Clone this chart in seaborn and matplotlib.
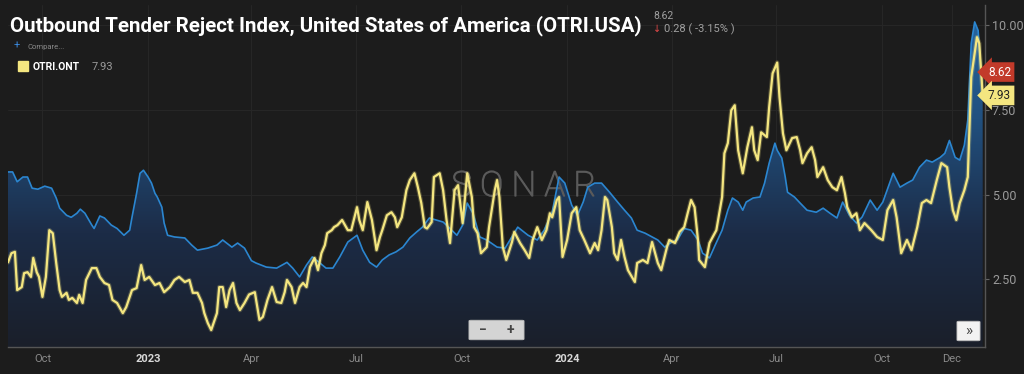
import numpy as np
import pandas as pd
import seaborn as sns
import matplotlib.pyplot as plt
import matplotlib.dates as mdates
from matplotlib.colors import LinearSegmentedColormap
from matplotlib.patches import Rectangle, FancyBboxPatch
import matplotlib.patheffects as pe

# data: days after 2022-09-01
start = pd.Timestamp('2022-09-01')

usa_day = [0, 4, 8, 13, 17, 21, 26, 32, 38, 42, 45, 51, 55, 60, 63, 67, 73, 75, 80, 84,
           90, 95, 101, 106, 108, 112, 115, 118, 122, 125, 128, 130, 134, 136, 139, 145,
           154, 160, 165, 174, 182, 187, 195, 200, 206, 212, 216, 225, 234, 243, 248, 254,
           260, 265, 271, 277, 283, 289, 296, 304, 309, 315, 321, 326, 332, 338, 344, 350,
           356, 361, 367, 373, 379, 385, 391, 396, 400, 405, 411, 417, 426, 433, 444, 453,
           461, 467, 474, 480, 485, 491, 496, 501, 505, 511, 517, 524, 531, 537, 543, 548,
           555, 561, 566, 572, 578, 583, 589, 595, 601, 605, 611, 616, 622, 627, 631, 636,
           640, 643, 649, 655, 659, 663, 668, 670, 674, 677, 679, 685, 690, 696, 704, 710,
           716, 722, 727, 733, 739, 744, 751, 757, 762, 771, 777, 783, 788, 794, 800, 805,
           812, 816, 820, 825, 829, 833, 836, 839, 842, 845, 848, 849]
usa_val = [5.67, 5.67, 5.38, 5.52, 5.52, 5.19, 5.16, 5.25, 5.19, 4.90, 4.60, 4.39, 4.33, 4.45,
           4.57, 4.45, 4.10, 4.00, 4.37, 4.31, 4.10, 4.00, 3.80, 3.95, 4.33, 5.04, 5.63, 5.72,
           5.52, 5.34, 5.04, 4.93, 4.63, 4.16, 3.80, 3.75, 3.72, 3.51, 3.36, 3.42, 3.51, 3.66,
           3.45, 3.57, 3.42, 3.05, 2.98, 2.86, 2.83, 3.00, 2.83, 2.57, 2.92, 3.16, 3.00, 2.83,
           2.83, 3.16, 3.60, 3.80, 3.36, 3.00, 2.86, 3.07, 3.22, 3.31, 3.45, 3.72, 3.90, 4.04,
           4.31, 4.25, 4.19, 4.00, 3.80, 4.10, 4.75, 4.45, 3.75, 3.66, 3.45, 3.42, 4.04, 3.80,
           3.66, 3.95, 4.48, 5.52, 5.34, 4.69, 4.39, 4.78, 5.22, 5.34, 5.34, 5.07, 4.78, 4.54,
           4.31, 3.95, 3.86, 3.75, 3.66, 3.45, 3.60, 3.66, 4.00, 3.95, 3.66, 3.27, 3.13, 3.51,
           3.95, 4.54, 4.90, 4.78, 4.54, 4.78, 4.90, 4.93, 5.34, 5.93, 6.52, 6.31, 6.08, 5.52,
           5.07, 4.93, 4.75, 4.54, 4.48, 4.60, 4.45, 4.31, 4.78, 4.39, 4.16, 4.34, 4.84, 4.54,
           4.78, 5.63, 5.22, 5.34, 5.43, 5.81, 6.02, 5.96, 6.10, 6.22, 6.60, 6.10, 6.02, 6.46,
           7.20, 9.47, 10.10, 9.85, 8.47, 8.62]

ont_day = [0, 3, 6, 8, 12, 14, 17, 20, 22, 25, 27, 30, 33, 36, 39, 42, 45, 47, 51, 53, 56,
           60, 62, 65, 68, 73, 77, 80, 84, 88, 91, 95, 100, 103, 108, 112, 116, 119, 123,
           128, 132, 136, 141, 145, 149, 154, 158, 161, 165, 169, 171, 174, 177, 182, 184,
           187, 190, 193, 196, 199, 202, 206, 210, 215, 219, 222, 226, 230, 234, 238, 241,
           243, 247, 250, 254, 257, 260, 263, 267, 270, 273, 276, 278, 282, 284, 287, 291,
           296, 299, 304, 306, 309, 313, 317, 321, 324, 326, 330, 334, 337, 339, 343, 347,
           350, 354, 357, 360, 363, 365, 369, 371, 376, 379, 382, 385, 389, 392, 396, 400,
           404, 406, 409, 412, 417, 419, 424, 426, 428, 431, 434, 439, 441, 446, 450, 454,
           457, 461, 465, 469, 472, 474, 478, 480, 483, 487, 491, 495, 498, 502, 507, 511,
           514, 517, 520, 522, 526, 528, 531, 534, 537, 540, 546, 548, 553, 557, 561, 566,
           569, 574, 576, 581, 585, 589, 592, 595, 598, 601, 602, 607, 611, 617, 622, 624,
           627, 630, 633, 636, 640, 644, 648, 650, 653, 656, 661, 663, 666, 670, 672, 675,
           678, 683, 687, 690, 692, 696, 700, 703, 705, 710, 714, 718, 722, 726, 729, 731,
           735, 739, 742, 746, 752, 757, 762, 766, 771, 774, 778, 783, 787, 792, 796, 800,
           804, 809, 813, 818, 820, 823, 826, 829, 833, 836, 839, 844, 846, 849]
ont_val = [3.00, 3.27, 3.31, 2.18, 2.27, 2.68, 2.71, 2.57, 3.13, 2.71, 2.57, 1.98, 2.57, 3.95,
           3.86, 2.98, 2.18, 1.98, 2.10, 1.89, 1.95, 1.80, 2.04, 1.80, 2.48, 2.83, 2.83, 2.57,
           2.39, 2.33, 1.89, 1.80, 1.50, 1.68, 2.18, 2.24, 2.92, 2.48, 2.57, 2.33, 2.39, 2.12,
           2.27, 2.48, 2.57, 2.42, 2.48, 2.10, 2.10, 1.80, 1.50, 1.21, 1.00, 1.50, 2.27, 2.27,
           1.68, 2.18, 2.39, 1.80, 1.59, 1.80, 2.05, 2.12, 1.30, 1.39, 1.89, 2.27, 1.83, 1.80,
           2.12, 2.48, 2.27, 1.80, 2.27, 2.39, 2.27, 2.86, 3.13, 2.77, 3.27, 3.51, 3.86, 3.95,
           4.04, 4.10, 4.25, 3.95, 3.95, 4.63, 4.25, 3.95, 4.78, 4.25, 3.36, 3.75, 3.95, 4.39,
           4.48, 4.33, 4.04, 4.33, 5.13, 5.43, 5.63, 5.22, 4.75, 4.04, 4.00, 4.19, 5.52, 5.63,
           5.13, 4.25, 3.57, 5.13, 5.28, 4.16, 5.63, 4.93, 4.04, 3.86, 3.27, 3.45, 4.04, 5.13,
           5.43, 4.93, 3.45, 3.07, 3.60, 3.90, 3.57, 3.36, 3.13, 3.66, 4.04, 3.66, 3.95, 4.45,
           4.33, 4.84, 4.93, 3.16, 3.66, 4.45, 4.63, 3.95, 3.66, 3.27, 3.57, 3.36, 3.95, 4.93,
           4.84, 4.04, 3.27, 3.07, 3.66, 3.16, 2.77, 2.42, 2.98, 3.07, 2.98, 3.60, 2.98, 2.77,
           3.45, 3.66, 3.57, 3.90, 4.04, 4.45, 4.84, 4.63, 3.66, 3.07, 2.86, 3.57, 3.95, 4.93,
           6.22, 6.52, 7.49, 7.64, 6.31, 5.63, 6.40, 6.99, 6.31, 6.02, 6.84, 6.70, 7.58, 8.58,
           8.90, 7.88, 6.81, 6.31, 6.67, 6.70, 6.31, 5.93, 6.22, 6.40, 6.02, 5.52, 5.81, 5.43,
           5.22, 5.13, 5.52, 5.04, 4.63, 4.33, 4.45, 3.95, 4.16, 3.95, 3.75, 3.66, 4.54, 4.84,
           4.33, 3.27, 3.66, 3.36, 4.04, 4.75, 4.84, 4.75, 5.43, 5.93, 5.81, 5.22, 4.54, 4.25,
           4.75, 5.13, 5.52, 8.47, 9.65, 9.47, 7.93]

tick_dates = ['2022-10-01', '2023-01-01', '2023-04-01', '2023-07-01', '2023-10-01',
              '2024-01-01', '2024-04-01', '2024-07-01', '2024-10-01', '2024-12-01']
tick_labels = ['Oct', '2023', 'Apr', 'Jul', 'Oct', '2024', 'Apr', 'Jul', 'Oct', 'Dec']
y_ticks = [2.5, 5.0, 7.5, 10.0]

usa = pd.DataFrame({'date': start + pd.to_timedelta(usa_day, unit='D'), 'value': usa_val})
ont = pd.DataFrame({'date': start + pd.to_timedelta(ont_day, unit='D'), 'value': ont_val})

bg = '#1c1c1c'
sns.set_style('dark', {'axes.facecolor': bg, 'figure.facecolor': bg})
plt.rcParams['font.family'] = ['Roboto', 'DejaVu Sans']

fig = plt.figure(figsize=(10.24, 3.74), dpi=100)
ax = fig.add_axes([8 / 1024, 27 / 374, 977 / 1024, 342 / 374])
ax.set_facecolor(bg)

x0 = mdates.date2num(start)
x1 = mdates.date2num(pd.Timestamp('2024-12-30'))
ylo, yhi = 0.5, 10.6

# gradient area under the USA line
cmap = LinearSegmentedColormap.from_list('fill', ['#1a1f2a', '#1c2c47', '#21507f', '#2767a3'])
poly = ax.fill_between(usa['date'], usa['value'], ylo, color='none', lw=0)
grad = np.linspace(0, 1, 256).reshape(-1, 1)
im = ax.imshow(grad, extent=[x0, x1, ylo, yhi], origin='lower', aspect='auto',
               cmap=cmap, zorder=1)
im.set_clip_path(poly.get_paths()[0], transform=ax.transData)

sns.lineplot(data=usa, x='date', y='value', color='#2b86d0', lw=1.2, ax=ax, zorder=3)
sns.lineplot(data=ont, x='date', y='value', color='#f4e680', lw=1.6, ax=ax, zorder=4,
             path_effects=[pe.Stroke(linewidth=3.2, foreground='#f4e680', alpha=0.25), pe.Normal()])

ax.set_xlim(x0, x1)
ax.set_ylim(ylo, yhi)
ax.set_xlabel('')
ax.set_ylabel('')

# grid
for d in tick_dates:
    ax.axvline(pd.Timestamp(d), color='#262626', lw=0.8, zorder=0.5)
for v in y_ticks:
    ax.axhline(v, color='#262626', lw=0.8, zorder=0.5)

ax.set_xticks(pd.to_datetime(tick_dates))
ax.set_xticklabels(tick_labels)
for lab in ax.get_xticklabels():
    if lab.get_text() in ('2023', '2024'):
        lab.set_color('#d8d8d8')
        lab.set_fontweight('bold')
    else:
        lab.set_color('#8a8a8a')
ax.tick_params(axis='x', length=3, color='#555555', labelsize=8, pad=5, direction='in')

ax.yaxis.tick_right()
ax.set_yticks(y_ticks)
ax.set_yticklabels([f'{v:.2f}' for v in y_ticks])
ax.tick_params(axis='y', length=3, color='#666666', labelsize=9, labelcolor='#9a9a9a', pad=2)

for s in ['top', 'left']:
    ax.spines[s].set_visible(False)
ax.spines['right'].set_color('#555555')
ax.spines['bottom'].set_color('#555555')
ax.spines['right'].set_linewidth(1)
ax.spines['bottom'].set_linewidth(1)

# header texts
fig.text(10 / 1024, 1 - 31 / 374, 'Outbound Tender Reject Index, United States of America (OTRI.USA)',
         color='white', fontsize=14.8, fontweight='bold', va='baseline')
fig.text(653 / 1024, 1 - 19 / 374, '8.62', color='#a0a0a0', fontsize=7.5, va='baseline')
fig.text(653 / 1024, 1 - 32 / 374, '↓', color='#e04848', fontsize=7, va='baseline',
         family=['DejaVu Sans'])
fig.text(664 / 1024, 1 - 32 / 374, '0.28 ( -3.15% )', color='#a0a0a0', fontsize=8, va='baseline')
fig.text(14 / 1024, 1 - 49 / 374, '+', color='#3b8be0', fontsize=8, va='baseline')
fig.text(27 / 1024, 1 - 49 / 374, 'Compare...', color='#8a8a8a', fontsize=5.5, va='baseline')
fig.patches.append(Rectangle((18 / 1024, 1 - 71 / 374), 10 / 1024, 10 / 374,
                             transform=fig.transFigure, color='#f4e680'))
fig.text(33 / 1024, 1 - 70 / 374, 'OTRI.ONT', color='white', fontsize=7.5, fontweight='bold',
         va='baseline')
fig.text(92 / 1024, 1 - 70 / 374, '7.93', color='#9a9a9a', fontsize=8, va='baseline')

# watermark
ax.text(0.528, 0.47, 'S O N A R', transform=ax.transAxes, ha='center', va='center',
        fontsize=25, color='none', fontweight='light', zorder=2,
        path_effects=[pe.Stroke(linewidth=0.9, foreground='#5a5a5a')])

# last value tags
ax.text(1.003, usa_val[-1], '8.62', transform=ax.get_yaxis_transform(), va='center', ha='left',
        fontsize=8.5, color='white', zorder=6, clip_on=False,
        bbox=dict(boxstyle='larrow,pad=0.28', fc='#c23a2a', ec='none'))
ax.text(1.003, ont_val[-1], '7.93', transform=ax.get_yaxis_transform(), va='center', ha='left',
        fontsize=8.5, color='#222222', zorder=6, clip_on=False,
        bbox=dict(boxstyle='larrow,pad=0.28', fc='#f4e680', ec='none'))

# zoom controls
fig.patches.append(FancyBboxPatch((471 / 1024, 1 - 339 / 374), 51 / 1024, 18 / 374,
                                  boxstyle='round,pad=0.002', transform=fig.transFigure,
                                  fc='#d4d4d4', ec='#bbbbbb', lw=0.6))
fig.text(483 / 1024, 1 - 330 / 374, '−', color='#444444', fontsize=10, fontweight='bold',
         ha='center', va='center')
fig.text(510 / 1024, 1 - 330 / 374, '+', color='#444444', fontsize=10, fontweight='bold',
         ha='center', va='center')
fig.patches.append(FancyBboxPatch((959 / 1024, 1 - 340 / 374), 19 / 1024, 18 / 374,
                                  boxstyle='round,pad=0.002', transform=fig.transFigure,
                                  fc='#f2f2f2', ec='#bbbbbb', lw=0.6))
fig.text(968.5 / 1024, 1 - 331 / 374, '»', color='#444444', fontsize=11,
         ha='center', va='center')

fig.savefig('out.png', dpi=100, facecolor=bg)
